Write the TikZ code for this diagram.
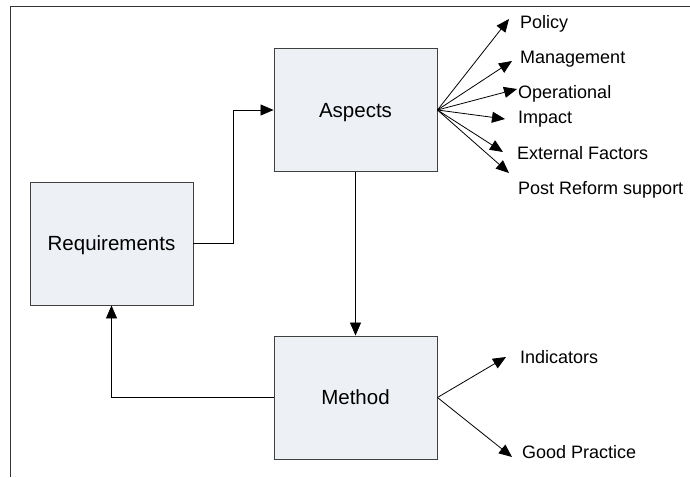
\documentclass[tikz,border=0pt]{standalone}
\usepackage{fontspec}
\setmainfont{Liberation Sans}
\usetikzlibrary{arrows.meta}
\begin{document}
\begin{tikzpicture}[x=1pt,y=-1pt,
  box/.style={draw=black!75,line width=0.9pt,fill={rgb,255:red,237;green,240;blue,245},minimum width=163pt,minimum height=123pt,inner sep=0pt,text height=14.5pt,text depth=0pt,font=\fontsize{20.5}{24}\selectfont},
  lbl/.style={anchor=base west,inner sep=0pt,font=\fontsize{18}{22}\selectfont},
  arr/.style={draw=black,line width=0.8pt,-{Triangle[length=13pt,width=11pt]}},
  frame/.style={draw=black!80,line width=1pt}]
\useasboundingbox (0,0) rectangle (690,478);
\draw[frame] (690,7) -- (10,7) -- (10,477);
\node[box] (asp) at (355.5,110) {Aspects};
\node[box] (req) at (111.5,243.5) {Requirements};
\node[box] (meth) at (355.5,397.5) {Method};
% labels
\node[lbl] (l1) at (520,29) {Policy};
\node[lbl] (l2) at (520,64) {Management};
\node[lbl] (l3) at (518,99) {Operational};
\node[lbl] (l4) at (518,124) {Impact};
\node[lbl] (l5) at (517,160) {External Factors};
\node[lbl] (l6) at (518,195) {Post Reform support};
\node[lbl] (l7) at (520,363) {Indicators};
\node[lbl] (l8) at (522,458) {Good Practice};
% tips
\coordinate (t1) at (509,19);
\coordinate (t2) at (512,61);
\coordinate (t3) at (517,89);
\coordinate (t4) at (505,119);
\coordinate (t5) at (503,152);
\coordinate (t6) at (509,173);
\coordinate (t7) at (506,357);
\coordinate (t8) at (512,457);
\foreach \i in {1,...,6} \draw[arr] (asp.east) -- (t\i);
\draw[arr] (meth.east) -- (t7);
\draw[arr] (meth.east) -- (t8);
\draw[arr] (req.east) -- ++(40,0) |- (asp.west);
\draw[arr] (asp.south) -- (meth.north);
\draw[arr] (meth.west) -| (req.south);
\end{tikzpicture}
\end{document}
